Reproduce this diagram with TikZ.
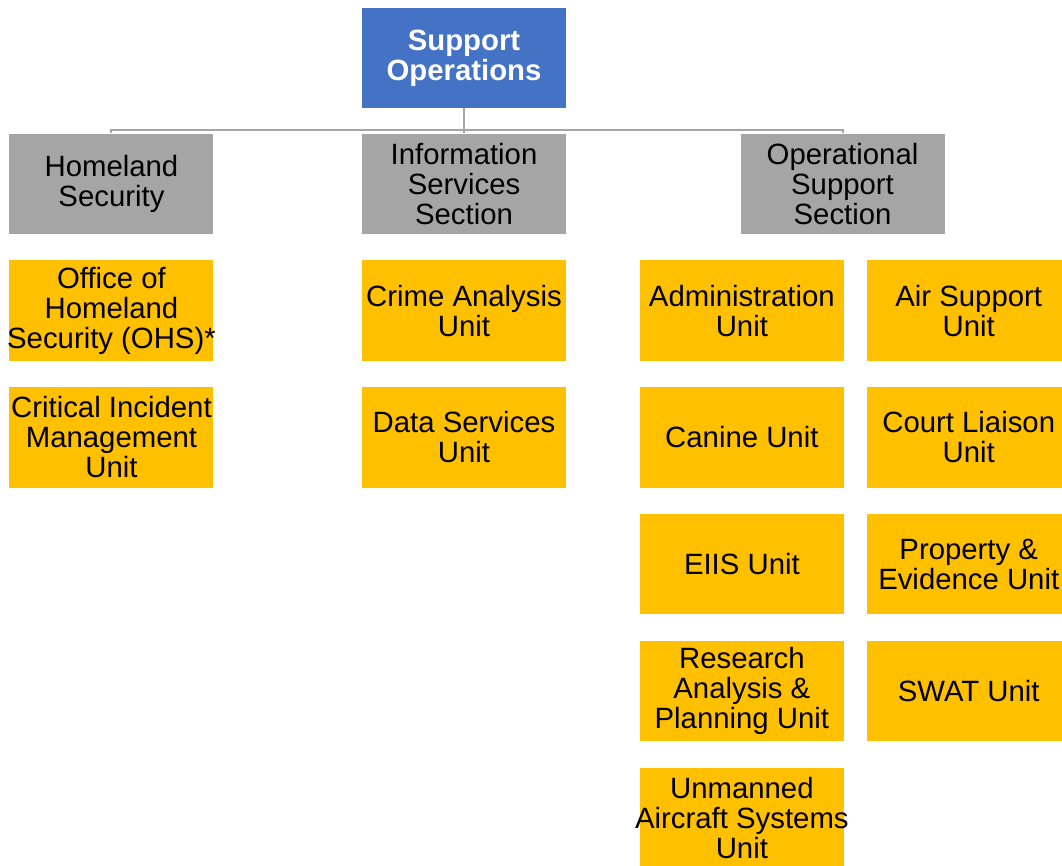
\documentclass[tikz,border=0pt]{standalone}
\usepackage{fontspec}
\setmainfont{Liberation Sans}
\usetikzlibrary{positioning}
\definecolor{headblue}{HTML}{4472C4}
\definecolor{secgray}{HTML}{A5A5A5}
\definecolor{unitgold}{HTML}{FFC000}
\tikzset{
	box/.style={minimum width=153pt,minimum height=75.2pt,inner xsep=-5pt,inner ysep=0pt,
		align=center,font=\fontsize{22}{22.5}\selectfont},
	headbox/.style={box,fill=headblue,text=white,font=\fontsize{22}{22.5}\selectfont\bfseries},
	secbox/.style={box,fill=secgray},
	unitbox/.style={box,fill=unitgold},
	link/.style={draw=secgray,line width=1.5pt},
}
\begin{document}
\begin{tikzpicture}[node distance=19.5pt]
		\useasboundingbox (0,0) rectangle (796.5pt,-648.75pt);
		\node[headbox] (so) at (348pt,-43.5pt) {Support\\Operations};
		%
		\node[secbox,below=18.75pt of so] (iss) {Information\\Services\\Section};
		\node[secbox,left=111pt of iss] (hs) {Homeland\\Security};
		\node[secbox,right=130.5pt of iss] (oss) {Operational\\Support\\Section};
		%
		\node[unitbox,below=of hs] (h1) {Office of\\Homeland\\Security (OHS)*};
		\node[unitbox,below=of h1] (h2) {Critical Incident\\Management\\Unit};
		\node[unitbox,below=of iss] (i1) {Crime Analysis\\Unit};
		\node[unitbox,below=of i1] (i2) {Data Services\\Unit};
		\node[unitbox,below=of oss,xshift=-75.5pt] (o1) {Administration\\Unit};
		\node[unitbox,below=of o1] (o2) {Canine Unit};
		\node[unitbox,below=of o2] (o3) {EIIS Unit};
		\node[unitbox,below=of o3] (o4) {Research\\Analysis \&\\Planning Unit};
		\node[unitbox,below=of o4] (o5) {Unmanned\\Aircraft Systems\\Unit};
		\node[unitbox,right=16.75pt of o1] (p1) {Air Support\\Unit};
		\node[unitbox,below=of p1] (p2) {Court Liaison\\Unit};
		\node[unitbox,below=of p2] (p3) {Property \&\\Evidence Unit};
		\node[unitbox,below=of p3] (p4) {SWAT Unit};
		%
		\coordinate[below=16.5pt of so.south] (bus);
		\draw[link] (so.south) -- (bus);
		\draw[link] (bus) -| (hs.north);
		\draw[link] (bus) -| (oss.north);
		\draw[link] (bus) -- (iss.north);
	\end{tikzpicture}
\end{document}
